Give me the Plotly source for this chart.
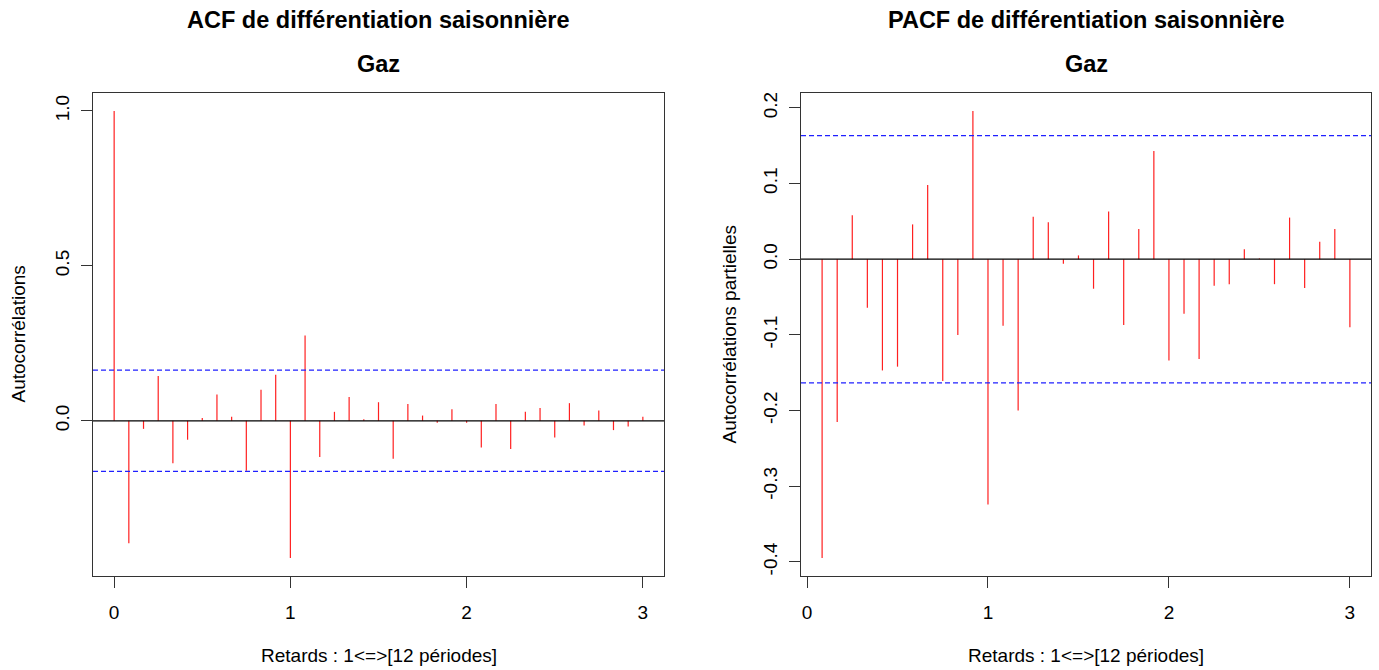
import plotly.graph_objects as go

# ---------------- data ----------------
acf_lags = [k / 12 for k in range(0, 37)]
acf_values = [1.000, -0.395, -0.026, 0.145, -0.137, -0.061, 0.009, 0.085, 0.013,
              -0.161, 0.100, 0.149, -0.443, 0.275, -0.117, 0.029, 0.077, 0.005,
              0.060, -0.122, 0.054, 0.017, -0.006, 0.037, -0.006, -0.086, 0.054,
              -0.091, 0.029, 0.041, -0.054, 0.057, -0.015, 0.033, -0.030, -0.018,
              0.013]

pacf_lags = [k / 12 for k in range(1, 37)]
pacf_values = [-0.395, -0.215, 0.058, -0.064, -0.147, -0.142, 0.046, 0.098, -0.161,
               -0.100, 0.196, -0.324, -0.088, -0.200, 0.056, 0.049, -0.006, 0.005,
               -0.039, 0.063, -0.087, 0.040, 0.143, -0.134, -0.072, -0.132, -0.035,
               -0.033, 0.013, 0.001, -0.033, 0.055, -0.038, 0.023, 0.040, -0.090]

conf_limit = 1.96 / 144 ** 0.5

x_tickvals = [0, 1, 2, 3]
x_ticktext = ["0", "1", "2", "3"]
acf_tickvals = [0.0, 0.5, 1.0]
acf_ticktext = ["0.0", "0.5", "1.0"]
pacf_tickvals = [-0.4, -0.3, -0.2, -0.1, 0.0, 0.1, 0.2]
pacf_ticktext = ["-0.4", "-0.3", "-0.2", "-0.1", "0.0", "0.1", "0.2"]

title_acf = "ACF de différentiation saisonnière"
title_pacf = "PACF de différentiation saisonnière"
subtitle = "Gaz"
xlabel = "Retards : 1<=>[12 périodes]"
ylabel_acf = "Autocorrélations"
ylabel_pacf = "Autocorrélations partielles"

# ---------------- layout helpers ----------------
W, H = 1379, 670
FONT = "Liberation Sans, Arial, sans-serif"


def px_x(p):
    return p / W


def px_y(p):
    return 1 - p / H


def spikes(lags, vals):
    xs, ys = [], []
    for l, v in zip(lags, vals):
        xs += [l, l, None]
        ys += [0, v, None]
    return xs, ys


def rng(lo, hi):
    d = (hi - lo) * 0.04
    return [lo - d, hi + d]


fig = go.Figure()

xa, ya = spikes(acf_lags, acf_values)
fig.add_trace(go.Scatter(x=xa, y=ya, mode="lines", line=dict(color="#ff2020", width=1.2),
                         xaxis="x", yaxis="y", hoverinfo="skip", showlegend=False))
xp, yp = spikes(pacf_lags, pacf_values)
fig.add_trace(go.Scatter(x=xp, y=yp, mode="lines", line=dict(color="#ff2020", width=1.2),
                         xaxis="x2", yaxis="y2", hoverinfo="skip", showlegend=False))

shapes = []
for xr, yr in (("x", "y"), ("x2", "y2")):
    for s in (1, -1):
        shapes.append(dict(type="line", xref=xr + " domain", yref=yr, x0=0, x1=1,
                           y0=s * conf_limit, y1=s * conf_limit, layer="above",
                           line=dict(color="#2020ff", width=1.2, dash="5px,3px")))
    shapes.append(dict(type="line", xref=xr + " domain", yref=yr, x0=0, x1=1, y0=0, y1=0,
                       layer="above", line=dict(color="black", width=1.2)))

axis_common = dict(showgrid=False, zeroline=False, showline=True, linecolor="#333333",
                   linewidth=1, mirror=True, ticks="outside", ticklen=11, tickwidth=1,
                   tickcolor="#333333", tickfont=dict(family=FONT, size=19, color="black"))

ydom = [px_y(576), px_y(93)]

fig.update_layout(
    width=W, height=H, autosize=False,
    margin=dict(l=0, r=0, t=0, b=0),
    paper_bgcolor="white", plot_bgcolor="white",
    showlegend=False,
    shapes=shapes,
    xaxis=dict(domain=[px_x(93), px_x(664)], range=rng(0, 3),
               tickvals=x_tickvals, ticktext=x_ticktext, ticklabelstandoff=8,
               anchor="y", **axis_common),
    yaxis=dict(domain=ydom, range=rng(min(acf_values + [-conf_limit]), max(acf_values + [conf_limit])),
               tickvals=acf_tickvals, ticktext=acf_ticktext, tickangle=-90,
               ticklabelstandoff=4, anchor="x", **axis_common),
    xaxis2=dict(domain=[px_x(801), px_x(1371)], range=rng(pacf_lags[0], pacf_lags[-1]),
                tickvals=x_tickvals, ticktext=x_ticktext, ticklabelstandoff=8,
                anchor="y2", **axis_common),
    yaxis2=dict(domain=ydom, range=rng(min(pacf_values + [-conf_limit]), max(pacf_values + [conf_limit])),
                tickvals=pacf_tickvals, ticktext=pacf_ticktext, tickangle=-90,
                ticklabelstandoff=4, anchor="x2", **axis_common),
)

ann = []
for cx, t, ylab, ylx in ((378.5, title_acf, ylabel_acf, 18), (1086, title_pacf, ylabel_pacf, 729)):
    ann.append(dict(text="<b>%s</b>" % t, x=px_x(cx), y=px_y(20), xref="paper", yref="paper",
                    showarrow=False, xanchor="center", yanchor="middle",
                    font=dict(family=FONT, size=23.5, color="black")))
    ann.append(dict(text="<b>%s</b>" % subtitle, x=px_x(cx), y=px_y(64), xref="paper", yref="paper",
                    showarrow=False, xanchor="center", yanchor="middle",
                    font=dict(family=FONT, size=23.5, color="black")))
    ann.append(dict(text=xlabel, x=px_x(cx), y=px_y(655), xref="paper", yref="paper",
                    showarrow=False, xanchor="center", yanchor="middle",
                    font=dict(family=FONT, size=19, color="black")))
    ann.append(dict(text=ylab, x=px_x(ylx), y=px_y(334.5), xref="paper", yref="paper",
                    showarrow=False, xanchor="center", yanchor="middle", textangle=-90,
                    font=dict(family=FONT, size=19, color="black")))
fig.update_layout(annotations=ann)

fig.write_html("out.html")
